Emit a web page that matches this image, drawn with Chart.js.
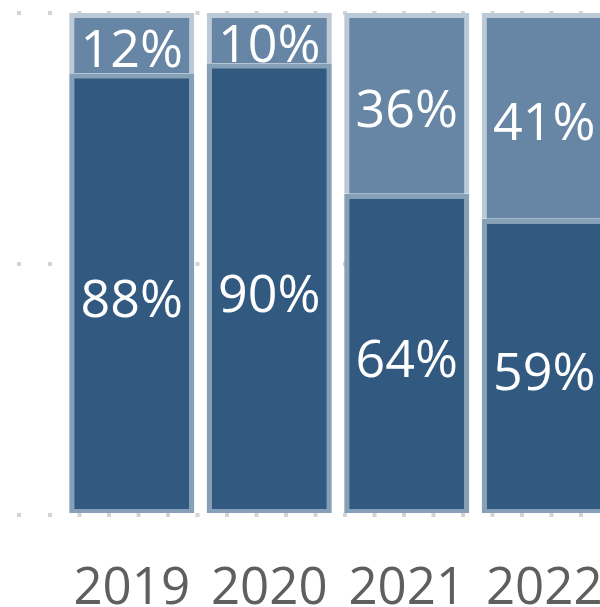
<!DOCTYPE html>
<html>
<head>
<meta charset="utf-8">
<script src="https://cdn.jsdelivr.net/npm/chart.js@4.4.1/dist/chart.umd.min.js"></script>
<style>
  html, body { margin: 0; padding: 0; background: #fff; overflow: hidden; }
  .chart-wrap { position: relative; width: 613px; height: 615px; }
</style>
</head>
<body>
<div class="chart-wrap"><canvas id="shareChart"></canvas></div>
<script>
const years = ['2019', '2020', '2021', '2022'];
const shareLower = [88, 90, 64, 59];
const shareUpper = [12, 10, 36, 41];
const yTickStep = 50;
const yMax = 100;

const darkBlue = '#325a81';
const slateBlue = '#6785a4';

// white % labels centred in each stacked segment
const segmentLabels = {
  id: 'segmentLabels',
  afterDatasetsDraw(chart) {
    const { ctx } = chart;
    ctx.save();
    ctx.font = '52px "Open Sans", "Noto Sans", sans-serif';
    ctx.fillStyle = '#ffffff';
    ctx.textAlign = 'center';
    ctx.textBaseline = 'alphabetic';
    chart.data.datasets.forEach((dataset, i) => {
      chart.getDatasetMeta(i).data.forEach((bar, j) => {
        const mid = (bar.y + bar.base) / 2;
        ctx.fillText(`${dataset.data[j]}%`, bar.x, mid + 24);
      });
    });
    ctx.restore();
  }
};

new Chart(document.getElementById('shareChart'), {
  type: 'bar',
  data: {
    labels: years,
    datasets: [
      {
        data: shareLower,
        backgroundColor: darkBlue,
        borderColor: '#86a0b8',
        borderWidth: { top: 5, left: 5, right: 5, bottom: 4 },
        borderSkipped: false
      },
      {
        data: shareUpper,
        backgroundColor: slateBlue,
        borderColor: '#bccad7',
        borderWidth: { top: 5, left: 5, right: 5, bottom: 0 },
        borderSkipped: false
      }
    ]
  },
  options: {
    responsive: true,
    maintainAspectRatio: false,
    animation: false,
    layout: { padding: { top: 13, left: 17, right: 0, bottom: 0 } },
    datasets: { bar: { categoryPercentage: 1, barPercentage: 0.91 } },
    plugins: {
      legend: { display: false },
      tooltip: { enabled: false }
    },
    scales: {
      x: {
        stacked: true,
        // hidden tick marks only reserve the gap above the year labels
        grid: { display: false, drawTicks: true, tickLength: 49 },
        border: { display: false },
        ticks: {
          color: '#5f5f5f',
          padding: 0,
          font: { family: '"Open Sans", "Noto Sans", sans-serif', size: 51, lineHeight: 1 }
        }
      },
      y: {
        stacked: true,
        min: 0,
        max: yMax,
        ticks: { display: false, stepSize: yTickStep },
        border: { display: false, dash: [4, 25.5], dashOffset: 15 },
        grid: {
          color: '#d4d4d4',
          lineWidth: 4,
          drawTicks: true,
          tickLength: 46,
          tickColor: '#d4d4d4',
          tickWidth: 4,
          tickBorderDash: [4, 27]
        }
      }
    }
  },
  plugins: [segmentLabels]
});
</script>
</body>
</html>
